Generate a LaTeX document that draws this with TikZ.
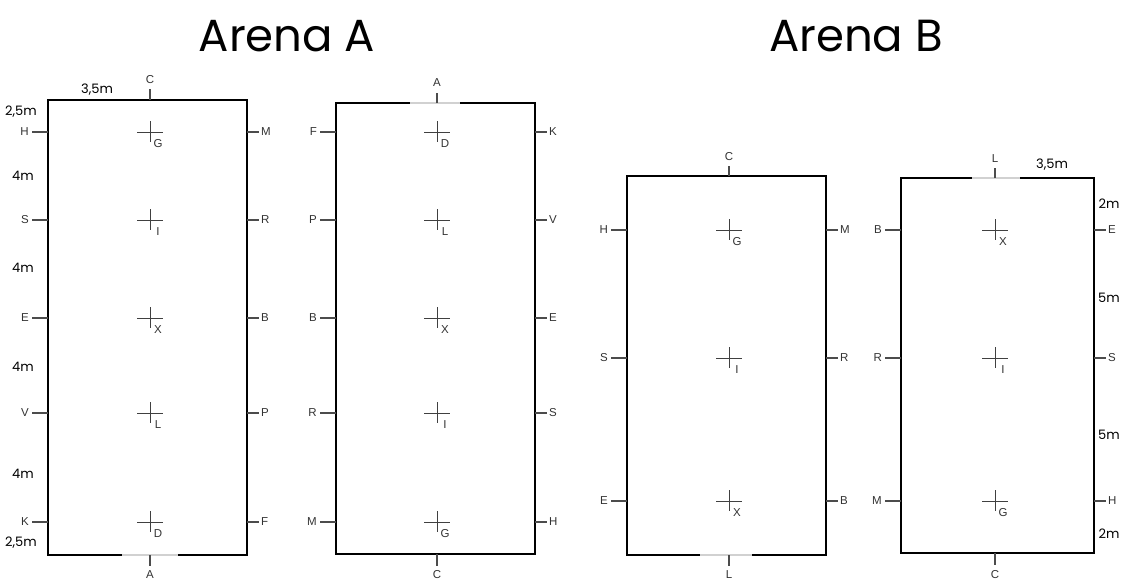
\documentclass[tikz,border=0pt]{standalone}
\usepackage{fontspec}
\setmainfont{Liberation Sans}
\newfontfamily\titlefont{Poppins}
\begin{document}
\begin{tikzpicture}[x=1pt,y=-1pt,
  wall/.style={line width=1.8pt,black},
  gapline/.style={line width=1.8pt,black!18},
  tickline/.style={line width=1.1pt,black!70},
  crossline/.style={line width=0.9pt,black!75},
  lbl/.style={font=\fontsize{11.5}{13}\selectfont,text=black!80,inner sep=0pt},
  dim/.style={font=\titlefont\fontsize{13}{15}\selectfont,inner sep=0pt},
  ttl/.style={font=\titlefont\fontsize{45}{50}\selectfont,inner sep=0pt}]
\useasboundingbox (0,0) rectangle (1125,581);
\fill[white] (0,0) rectangle (1125,581);
% titles
\node[ttl] (tA) at (287,36) {Arena A};
\node[ttl] (tB) at (856,36) {Arena B};
% marker macro: cross with label
\newcommand\mkcross[4]{%
  \draw[crossline] (#1-13,#2) -- (#1+13,#2);
  \draw[crossline] (#1,#2-11) -- (#1,#2+10);
  \node[lbl] (#4) at (#1+8,#2+12) {#3};}
\newcommand\lefttick[4]{% x of wall, y, label, name
  \draw[tickline] (#1,#2) -- (#1-16,#2);
  \node[lbl,anchor=east] (#4) at (#1-19,#2) {#3};}
\newcommand\righttick[4]{%
  \draw[tickline] (#1,#2) -- (#1+12,#2);
  \node[lbl,anchor=west] (#4) at (#1+14,#2) {#3};}
% ---------------- Arena A, left ----------------
\draw[wall] (122,555) -- (48,555) -- (48,100) -- (247,100) -- (247,555) -- (178,555);
\draw[gapline] (122,555) -- (178,555);
\draw[tickline] (150,100) -- (150,89);
\node[lbl] (a1C) at (150,80) {C};
\draw[tickline] (150,555) -- (150,566);
\node[lbl] (a1A) at (150,575) {A};
\foreach \yy/\l/\r/\c [count=\i] in {132/H/M/G,220/S/R/I,318/E/B/X,413/V/P/L,522/K/F/D}{
  \lefttick{48}{\yy}{\l}{a1l\i}
  \righttick{247}{\yy}{\r}{a1r\i}
  \mkcross{150}{\yy}{\c}{a1c\i}
}
\node[dim] (d1) at (97,90) {3,5m};
\node[dim] (d2) at (21,112) {2,5m};
\node[dim] (d3) at (23,176) {4m};
\node[dim] (d4) at (23,268) {4m};
\node[dim] (d5) at (23,367) {4m};
\node[dim] (d6) at (23,474) {4m};
\node[dim] (d7) at (21,543) {2,5m};
% ---------------- Arena A, right ----------------
\draw[wall] (410,103) -- (336,103) -- (336,554) -- (535,554) -- (535,103) -- (460,103);
\draw[gapline] (410,103) -- (460,103);
\draw[tickline] (437,103) -- (437,93);
\node[lbl] (a2A) at (437,83) {A};
\draw[tickline] (437,554) -- (437,566);
\node[lbl] (a2C) at (437,575) {C};
\foreach \yy/\l/\r/\c [count=\i] in {132/F/K/D,220/P/V/L,318/B/E/X,413/R/S/I,522/M/H/G}{
  \lefttick{336}{\yy}{\l}{a2l\i}
  \righttick{535}{\yy}{\r}{a2r\i}
  \mkcross{437}{\yy}{\c}{a2c\i}
}
% ---------------- Arena B, left ----------------
\draw[wall] (700,555) -- (627,555) -- (627,176) -- (826,176) -- (826,555) -- (752,555);
\draw[gapline] (700,555) -- (752,555);
\draw[tickline] (729,176) -- (729,166);
\node[lbl] (b1C) at (729,157) {C};
\draw[tickline] (729,555) -- (729,566);
\node[lbl] (b1L) at (729,575) {L};
\foreach \yy/\l/\r/\c [count=\i] in {230/H/M/G,358/S/R/I,501/E/B/X}{
  \lefttick{627}{\yy}{\l}{b1l\i}
  \righttick{826}{\yy}{\r}{b1r\i}
  \mkcross{729}{\yy}{\c}{b1c\i}
}
% ---------------- Arena B, right ----------------
\draw[wall] (972,178) -- (901,178) -- (901,553) -- (1094,553) -- (1094,178) -- (1020,178);
\draw[gapline] (972,178) -- (1020,178);
\draw[tickline] (995,178) -- (995,168);
\node[lbl] (b2L) at (995,159) {L};
\draw[tickline] (995,553) -- (995,565);
\node[lbl] (b2C) at (995,575) {C};
\foreach \yy/\l/\r/\c [count=\i] in {230/B/E/X,358/R/S/I,501/M/H/G}{
  \lefttick{901}{\yy}{\l}{b2l\i}
  \righttick{1094}{\yy}{\r}{b2r\i}
  \mkcross{995}{\yy}{\c}{b2c\i}
}
\node[dim] (e1) at (1052,165) {3,5m};
\node[dim] (e2) at (1109,204) {2m};
\node[dim] (e3) at (1109,298) {5m};
\node[dim] (e4) at (1109,435) {5m};
\node[dim] (e5) at (1109,534) {2m};
\end{tikzpicture}
\end{document}
